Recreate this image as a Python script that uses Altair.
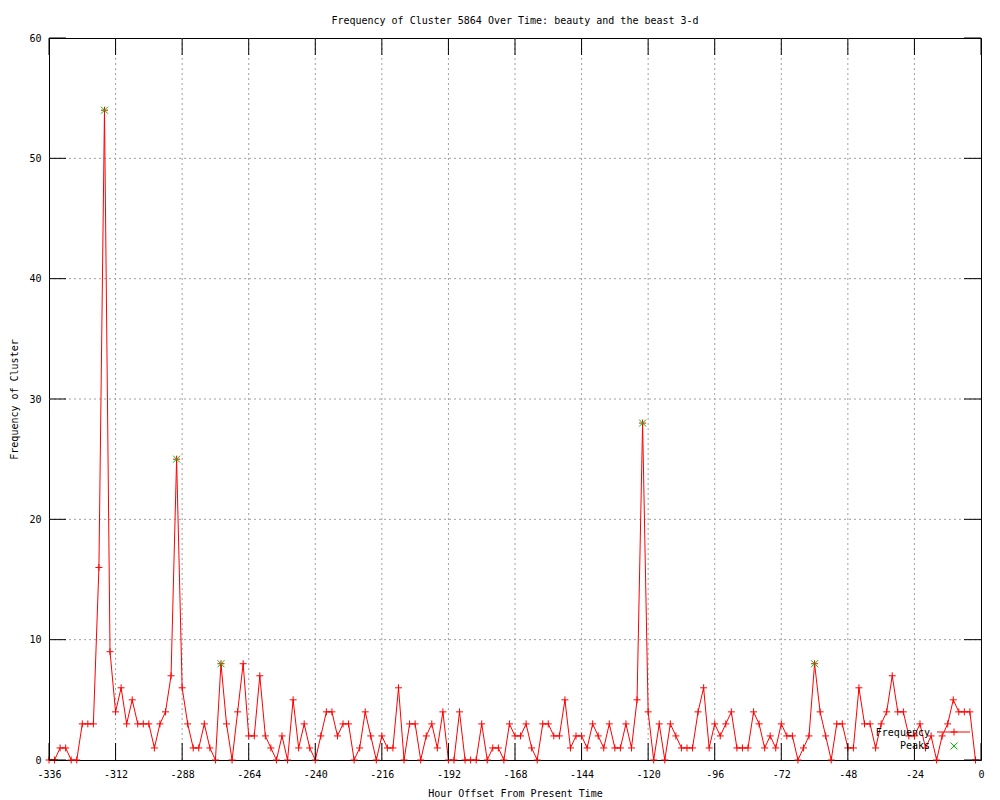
import altair as alt
import pandas as pd

# ---- data ----
hours = list(range(-336, 0, 2))
freq = [
    0, 0, 1, 1, 0, 0, 3, 3, 3, 16,      # -336 .. -318
    54, 9, 4, 6, 3, 5, 3, 3, 3, 1,      # -316 .. -298
    3, 4, 7, 25, 6, 3, 1, 1, 3, 1,      # -296 .. -278
    0, 8, 3, 0, 4, 8, 2, 2, 7, 2,       # -276 .. -258
    1, 0, 2, 0, 5, 1, 3, 1, 0, 2,       # -256 .. -238
    4, 4, 2, 3, 3, 0, 1, 4, 2, 0,       # -236 .. -218
    2, 1, 1, 6, 0, 3, 3, 0, 2, 3,       # -216 .. -198
    1, 4, 0, 0, 4, 0, 0, 0, 3, 0,       # -196 .. -178
    1, 1, 0, 3, 2, 2, 3, 1, 0, 3,       # -176 .. -158
    3, 2, 2, 5, 1, 2, 2, 1, 3, 2,       # -156 .. -138
    1, 3, 1, 1, 3, 1, 5, 28, 4, 0,      # -136 .. -118
    3, 0, 3, 2, 1, 1, 1, 4, 6, 1,       # -116 .. -98
    3, 2, 3, 4, 1, 1, 1, 4, 3, 1,       # -96 .. -78
    2, 1, 3, 2, 2, 0, 1, 2, 8, 4,       # -76 .. -58
    2, 0, 3, 3, 1, 1, 6, 3, 3, 1,       # -56 .. -38
    3, 4, 7, 4, 4, 2, 2, 3, 1, 2,       # -36 .. -18
    0, 2, 3, 5, 4, 4, 4, 0,             # -16 .. -2
]
peak_hours = [-316, -290, -274, -122, -60]
peak_freq = [54, 25, 8, 28, 8]
x_ticks = list(range(-336, 1, 24))
y_ticks = list(range(0, 61, 10))

# ---- styling ----
W, H = 932, 722
FONT = "DejaVu Sans Mono"
RED = "#ff0000"
GREEN = "#00c000"
GRID = "#a0a0a0"
PLUS = "M-1,0L1,0M0,-1L0,1"
CROSS = "M-1,-1L1,1M-1,1L1,-1"
TICK = 17

df = pd.DataFrame({"hour": hours, "freq": freq})
peaks_df = pd.DataFrame({"hour": peak_hours, "freq": peak_freq})
xt = pd.DataFrame({"hour": x_ticks})
yt = pd.DataFrame({"freq": y_ticks})
xg = pd.DataFrame({"hour": x_ticks[1:-1]})
yg = pd.DataFrame({"freq": y_ticks[1:-1]})
one = pd.DataFrame({"k": [0]})

common_axis = dict(
    tickSize=0, domain=False, grid=False, labelFlush=False,
    labelFont=FONT, labelFontSize=10, labelColor="black",
    titleFont=FONT, titleFontSize=10, titleFontWeight="normal", titleColor="black",
)
xscale = alt.Scale(domain=[-336, 0], nice=False, zero=False)
yscale = alt.Scale(domain=[0, 60], nice=False, zero=True)
xaxis = alt.Axis(values=x_ticks, title="Hour Offset From Present Time",
                 labelExpr="datum.value + ''", labelPadding=14,
                 labelBaseline="middle", titleY=33, titleBaseline="middle",
                 **common_axis)
yaxis = alt.Axis(values=y_ticks, title="Frequency of Cluster",
                 labelPadding=8, titleX=-35, titleBaseline="middle",
                 **common_axis)


def X(f):
    return alt.X(f"{f}:Q", scale=xscale, axis=xaxis)


def Y(f):
    return alt.Y(f"{f}:Q", scale=yscale, axis=yaxis)


grid_v = alt.Chart(xg).mark_rule(color=GRID, strokeDash=[2, 3], strokeWidth=1).encode(
    x=X("hour"), y=alt.value(0), y2=alt.value(H))
grid_h = alt.Chart(yg).mark_rule(color=GRID, strokeDash=[2, 3], strokeWidth=1).encode(
    y=Y("freq"), x=alt.value(0), x2=alt.value(W))

line = alt.Chart(df).mark_line(color=RED, strokeWidth=1).encode(x=X("hour"), y=Y("freq"))
pts = alt.Chart(df).mark_point(shape=PLUS, size=49, filled=False, color=RED,
                               strokeWidth=1, opacity=1).encode(x=X("hour"), y=Y("freq"))
pk = alt.Chart(peaks_df).mark_point(shape=CROSS, size=49, filled=False, color=GREEN,
                                    strokeWidth=1, opacity=1).encode(x=X("hour"), y=Y("freq"))

ticks_b = alt.Chart(xt).mark_rule(color="black").encode(
    x=X("hour"), y=alt.value(H), y2=alt.value(H - TICK))
ticks_t = alt.Chart(xt).mark_rule(color="black").encode(
    x=X("hour"), y=alt.value(0), y2=alt.value(TICK))
ticks_l = alt.Chart(yt).mark_rule(color="black").encode(
    y=Y("freq"), x=alt.value(0), x2=alt.value(TICK))
ticks_r = alt.Chart(yt).mark_rule(color="black").encode(
    y=Y("freq"), x=alt.value(W), x2=alt.value(W - TICK))

# key (gnuplot style, inside bottom right)
leg_t1 = alt.Chart(one).mark_text(text="Frequency", align="right", baseline="middle",
                                  font=FONT, fontSize=10, color="black").encode(
    x=alt.value(881), y=alt.value(695))
leg_l = alt.Chart(one).mark_rule(color=RED, strokeWidth=1).encode(
    x=alt.value(888), x2=alt.value(921), y=alt.value(694))
leg_p = alt.Chart(one).mark_point(shape=PLUS, size=49, filled=False, color=RED,
                                  strokeWidth=1, opacity=1).encode(
    x=alt.value(905), y=alt.value(694))
leg_t2 = alt.Chart(one).mark_text(text="Peaks", align="right", baseline="middle",
                                  font=FONT, fontSize=10, color="black").encode(
    x=alt.value(881), y=alt.value(708))
leg_x = alt.Chart(one).mark_point(shape=CROSS, size=49, filled=False, color=GREEN,
                                  strokeWidth=1, opacity=1).encode(
    x=alt.value(905), y=alt.value(708))

chart = alt.layer(
    grid_v, grid_h, line, pts, pk, ticks_b, ticks_t, ticks_l, ticks_r,
    leg_t1, leg_l, leg_p, leg_t2, leg_x,
).properties(
    width=W, height=H,
    title=alt.TitleParams(
        "Frequency of Cluster 5864 Over Time: beauty and the beast 3-d",
        font=FONT, fontSize=10, fontWeight="normal", color="black",
        anchor="middle", frame="group", offset=14, baseline="alphabetic", dy=15),
    autosize=alt.AutoSizeParams(type="none"),
    padding={"left": 41, "top": 30, "right": 10, "bottom": 40},
    background="white",
).configure_view(
    stroke="black", strokeWidth=1, fill="white"
)

chart.save("out.html", embed_options={"renderer": "svg", "actions": False})
